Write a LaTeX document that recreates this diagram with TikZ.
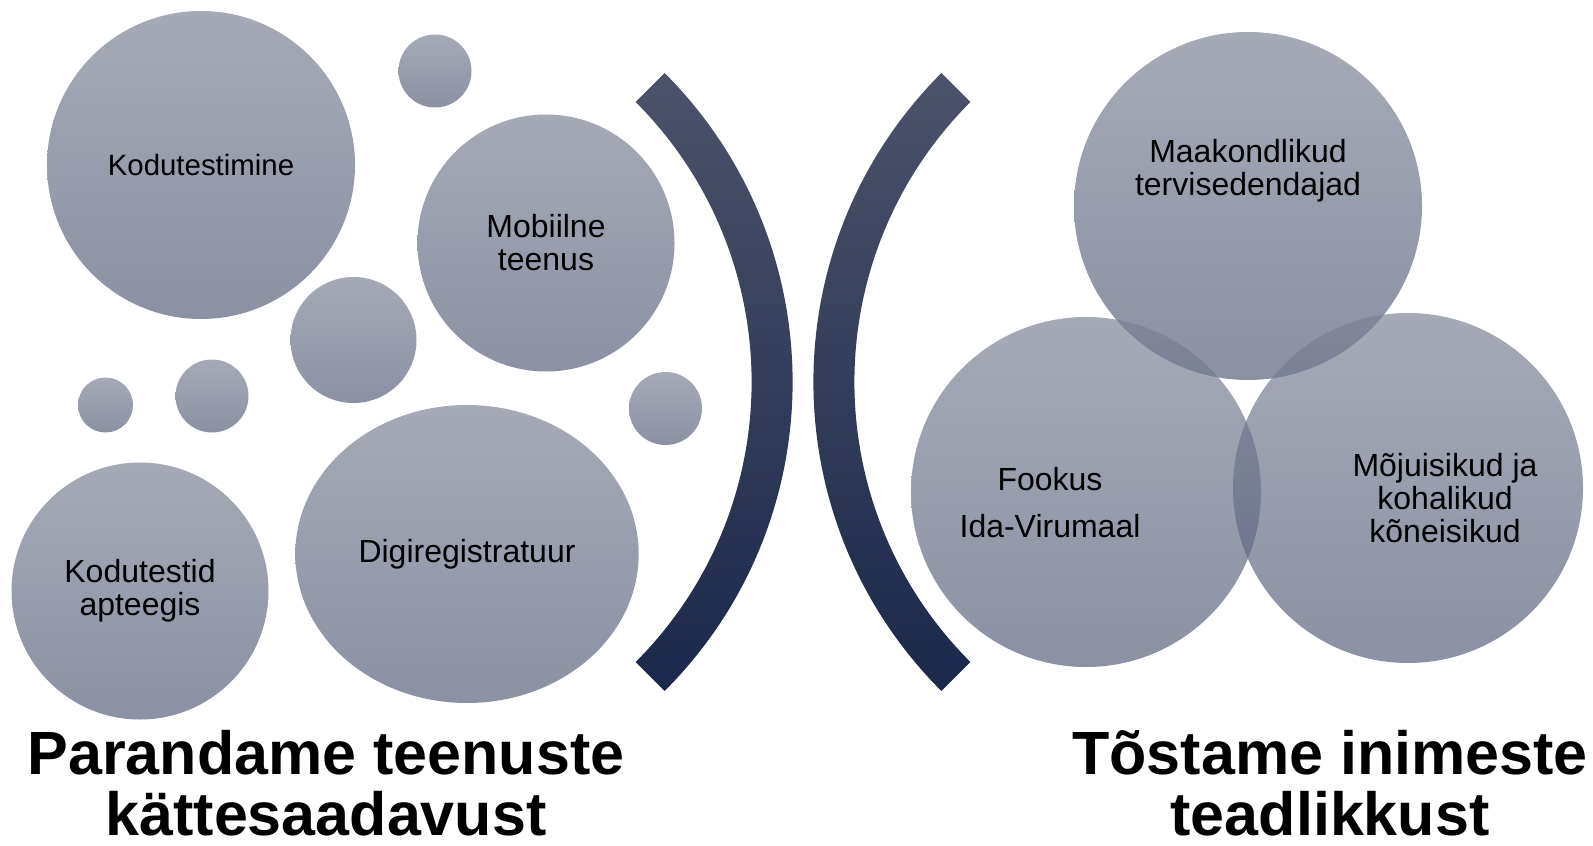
\documentclass[tikz,border=0pt]{standalone}
\usepackage{fontspec}
\setmainfont{Liberation Sans}
\usetikzlibrary{shapes.geometric}
\usetikzlibrary{positioning}
\definecolor{bubtop}{RGB}{122,128,145}
\definecolor{bubmid}{RGB}{92,100,125}
\definecolor{bubbot}{RGB}{82,91,119}
\definecolor{arctop}{RGB}{76,82,106}
\definecolor{arcmid}{RGB}{32,45,80}
\definecolor{arcbot}{RGB}{27,40,75}

\begin{document}
\begin{tikzpicture}[x=0.5pt,y=-0.5pt,
    bubble/.style={circle, draw=none, inner sep=0pt, shade, top color=bubtop, middle color=bubmid, bottom color=bubbot, fill opacity=0.67, text opacity=1, align=center, font=\fontsize{16}{16.5}\selectfont},
    oval/.style={bubble, ellipse},
    bubtext/.style={align=center, inner sep=0pt, font=\fontsize{16}{16.5}\selectfont},
    bracket/.style={top color=arctop, middle color=arcmid, bottom color=arcbot},
    headline/.style={align=center, inner sep=0pt, font=\fontsize{30.5}{30.5}\selectfont\bfseries}]
    \useasboundingbox (0,0) rectangle (1593,845);

    % left group
    \node[bubble, minimum size=154pt, font=\fontsize{14.7}{15}\selectfont] (kodtest) at (201,165) {Kodutestimine};
    \node[bubble, minimum size=36.5pt] (dot1) at (435,71) {};
    \node[bubble, minimum size=128.5pt] (mobiil) at (546,243) {Mobiilne\\teenus};
    \node[bubble, minimum size=63pt] (dot2) at (353.5,340) {};
    \node[bubble, minimum size=27.5pt] (dot3) at (105.5,405) {};
    \node[bubble, minimum size=36.5pt] (dot4) at (212,396) {};
    \node[bubble, minimum size=36.5pt] (dot5) at (665.5,408.5) {};
    \node[bubble, minimum size=128.5pt] (apteek) at (140,591) {Kodutestid\\apteegis};
    \node[oval, minimum width=171.7pt, minimum height=149pt] (digireg) at (467,554) {Digiregistratuur};

    % brackets
    \coordinate (lc) at (355.6,382);
    \coordinate (rc) at (1250.4,382);
    \shade[bracket] ([shift={(45:218.5pt)}]lc) arc[start angle=45, end angle=-45, radius=218.5pt]
        -- ([shift={(-45:198pt)}]lc) arc[start angle=-45, end angle=45, radius=198pt] -- cycle;
    \shade[bracket] ([shift={(135:218.5pt)}]rc) arc[start angle=135, end angle=225, radius=218.5pt]
        -- ([shift={(225:198pt)}]rc) arc[start angle=225, end angle=135, radius=198pt] -- cycle;

    % right group
    \node[bubble, minimum size=174pt] (maak) at (1248,206) {};
    \node[bubble, minimum size=175pt] (fookus) at (1086,492) {};
    \node[bubble, minimum size=175pt] (mojuis) at (1408,488) {};
    \node[bubtext] (maaktxt) at (1248,171) {Maakondlikud\\tervisedendajad};
    \node[bubtext] (fooktxt) at (1050,503) {Fookus\\[7pt]Ida-Virumaal};
    \node[bubtext] (mojutxt) at (1445,498) {Mõjuisikud ja\\kohalikud\\kõneisikud};

    \node[headline, anchor=base] (lefttitle) at (326,835) {Parandame teenuste\\kättesaadavust};
    \node[headline, anchor=base] (righttitle) at (1330,835) {Tõstame inimeste\\teadlikkust};
\end{tikzpicture}
\end{document}
